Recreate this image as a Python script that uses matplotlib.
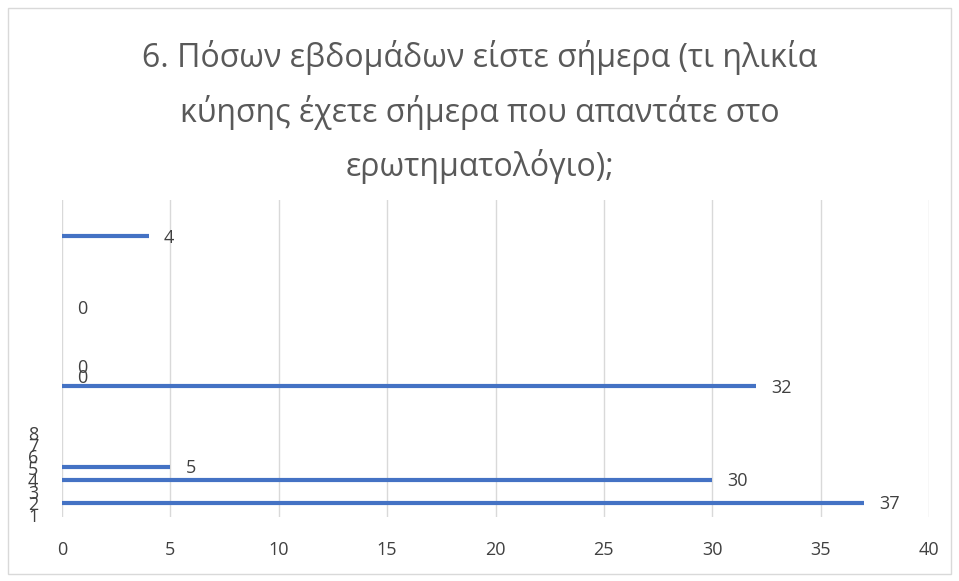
import matplotlib
matplotlib.use("Agg")
import matplotlib.pyplot as plt
from matplotlib.patches import Rectangle

# answer counts and where Excel drew each bar on the (category) axis
values = [37, 30, 5, 32, 0, 0, 0, 4]
bar_pos = [2.03, 3.99, 5.1, 12.0, 12.85, 13.7, 18.7, 24.8]
categories = ["1", "2", "3", "4", "5", "6", "7", "8"]
cat_pos = [1, 2, 3, 4, 5, 6, 7, 8]
xticks = [0, 5, 10, 15, 20, 25, 30, 35, 40]

TITLE = ("6. Πόσων εβδομάδων είστε σήμερα (τι ηλικία\n"
         "κύησης έχετε σήμερα που απαντάτε στο\n"
         "ερωτηματολόγιο);")

BLUE, INK, GRID = "#4472C4", "#595959", "#D9D9D9"
plt.rcParams["font.family"] = ["Open Sans", "DejaVu Sans"]

fig = plt.figure(figsize=(9.59, 5.81), dpi=100)
fig.patches.append(Rectangle((8 / 959, 7 / 581), 943 / 959, 566 / 581, transform=fig.transFigure,
                             fill=False, edgecolor=GRID, linewidth=1))
ax = fig.add_axes([62 / 959, 64 / 581, 867 / 959, 317 / 581])

ax.hlines(bar_pos, 0, values, color=BLUE, linewidth=3)
for v, p in zip(values, bar_pos):
    ax.annotate(str(v), (v, p), xytext=(11, -1), textcoords="offset points",
                va="center", ha="left", fontsize=13, color="#404040")

ax.set_xlim(0, 40)
ax.set_ylim(0.83, 27.9)
ax.set_xticks(xticks)
ax.set_yticks(cat_pos)
ax.set_yticklabels(categories)
ax.tick_params(length=0, labelsize=13, labelcolor="#404040")
ax.tick_params(axis="x", pad=17)
ax.tick_params(axis="y", pad=17)
ax.grid(axis="x", color=GRID, linewidth=1)
ax.set_axisbelow(True)
for s in ax.spines.values():
    s.set_visible(False)

fig.text(0.5, 0.807, TITLE, ha="center", va="center", fontsize=23, color=INK, linespacing=1.72)
fig.savefig("out.png", dpi=100)
